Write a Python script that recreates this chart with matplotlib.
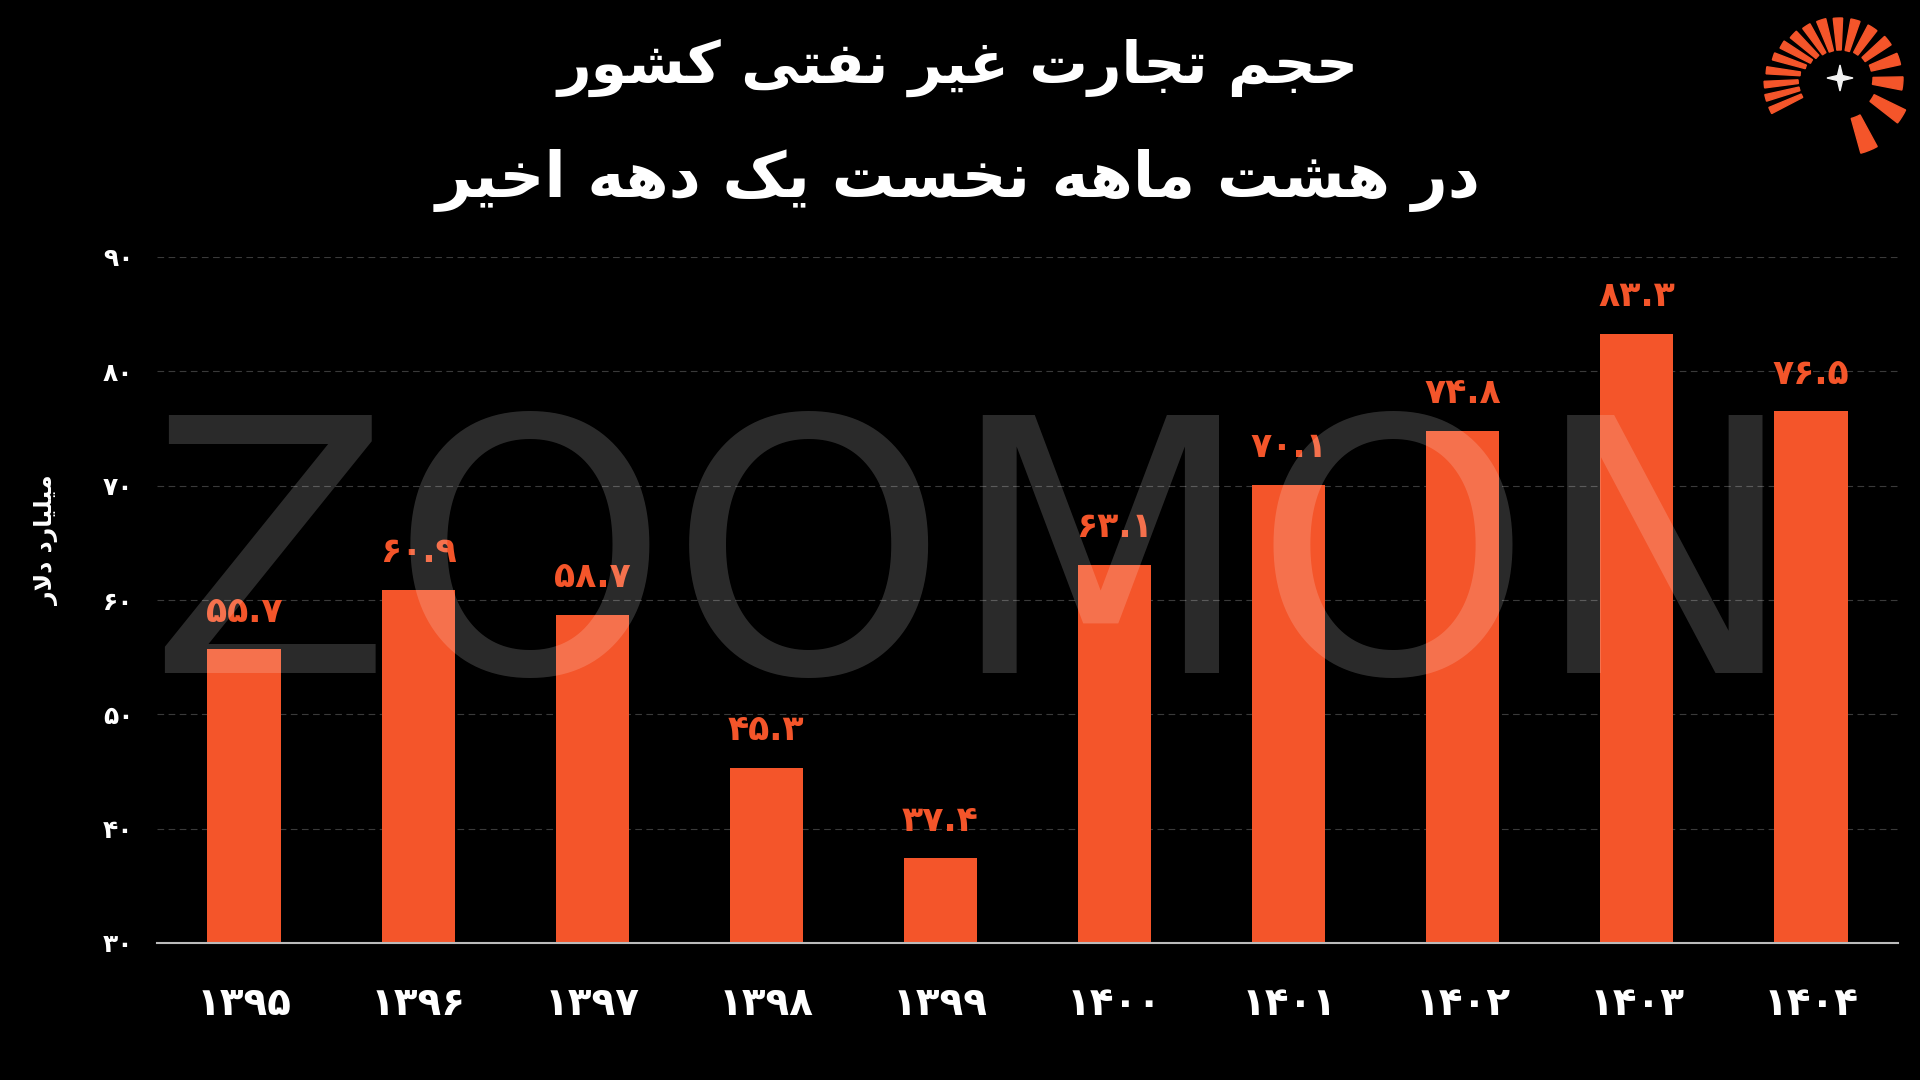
import numpy as np
import matplotlib
matplotlib.use("Agg")
import matplotlib.pyplot as plt
from matplotlib.patches import Wedge, Polygon

# داده‌ها
years = ["1395", "1396", "1397", "1398", "1399", "1400", "1401", "1402", "1403", "1404"]
values = [55.7, 60.9, 58.7, 45.3, 37.4, 63.1, 70.1, 74.8, 83.3, 76.5]
yticks = [30, 40, 50, 60, 70, 80, 90]

title1 = "حجم تجارت غیر نفتی کشور"
title2 = "در هشت ماهه نخست یک دهه اخیر"
ylabel = "میلیارد دلار"

BG = "#000000"
ORANGE = "#F4552A"

# فرم‌های نمایشی حروف: (تنها، پایانی، آغازی، میانی)
FORMS = {
    "ا": ("\uFE8D", "\uFE8E", None, None),
    "ت": ("\uFE95", "\uFE96", "\uFE97", "\uFE98"),
    "ج": ("\uFE9D", "\uFE9E", "\uFE9F", "\uFEA0"),
    "ح": ("\uFEA1", "\uFEA2", "\uFEA3", "\uFEA4"),
    "خ": ("\uFEA5", "\uFEA6", "\uFEA7", "\uFEA8"),
    "د": ("\uFEA9", "\uFEAA", None, None),
    "ر": ("\uFEAD", "\uFEAE", None, None),
    "س": ("\uFEB1", "\uFEB2", "\uFEB3", "\uFEB4"),
    "ش": ("\uFEB5", "\uFEB6", "\uFEB7", "\uFEB8"),
    "غ": ("\uFECD", "\uFECE", "\uFECF", "\uFED0"),
    "ف": ("\uFED1", "\uFED2", "\uFED3", "\uFED4"),
    "ل": ("\uFEDD", "\uFEDE", "\uFEDF", "\uFEE0"),
    "م": ("\uFEE1", "\uFEE2", "\uFEE3", "\uFEE4"),
    "ن": ("\uFEE5", "\uFEE6", "\uFEE7", "\uFEE8"),
    "ه": ("\uFEE9", "\uFEEA", "\uFEEB", "\uFEEC"),
    "و": ("\uFEED", "\uFEEE", None, None),
    "ک": ("\uFB8E", "\uFB8F", "\uFB90", "\uFB91"),
    "ی": ("\uFBFC", "\uFBFD", "\uFBFE", "\uFBFF"),
    "لا": ("\uFEFB", "\uFEFC", None, None),
}


def fa(text):
    # اتصال حروف و راست به چپ کردن متن
    tokens = []
    i = 0
    while i < len(text):
        if text[i] == "ل" and i + 1 < len(text) and text[i + 1] == "ا":
            tokens.append("لا")
            i += 2
        else:
            tokens.append(text[i])
            i += 1
    out = []
    for k, t in enumerate(tokens):
        if t not in FORMS:
            out.append(t)
            continue
        f = FORMS[t]
        prev = tokens[k - 1] if k > 0 else None
        nxt = tokens[k + 1] if k + 1 < len(tokens) else None
        jp = prev in FORMS and FORMS[prev][2] is not None
        jn = nxt in FORMS and f[2] is not None
        if jp and jn:
            out.append(f[3])
        elif jp:
            out.append(f[1])
        elif jn:
            out.append(f[2])
        else:
            out.append(f[0])
    return "".join(out)[::-1]


digits = str.maketrans("0123456789", "۰۱۲۳۴۵۶۷۸۹")


def fa_num(s):
    return str(s).translate(digits)


fig = plt.figure(figsize=(19.2, 10.8), dpi=100, facecolor=BG)
ax = fig.add_axes([157 / 1920, 1 - 943 / 1080, (1898 - 157) / 1920, (943 - 257) / 1080])
ax.set_facecolor(BG)

x = np.arange(len(years))
ax.bar(x, [v - 30 for v in values], bottom=30, width=0.42, color=ORANGE, zorder=2)
for xi, v in zip(x, values):
    ax.text(xi, v + 1.8, fa_num(v), ha="center", va="bottom", color=ORANGE,
            fontsize=25, fontweight="bold", zorder=4)

ax.set_xlim(-0.5, len(years) - 0.5)
ax.set_ylim(30, 90)
ax.set_yticks(yticks)
ax.set_yticklabels([fa_num(t) for t in yticks], color="white", fontsize=18, fontweight="bold")
ax.set_xticks(x)
ax.set_xticklabels([fa_num(y) for y in years], color="white", fontsize=28, fontweight="bold")
ax.tick_params(axis="both", length=0)
ax.tick_params(axis="x", pad=30)
ax.tick_params(axis="y", pad=17)
ax.grid(axis="y", color="#3a3a3a", linestyle=(0, (6, 4)), linewidth=0.8, zorder=0)
for s in ["top", "right", "left"]:
    ax.spines[s].set_visible(False)
ax.spines["bottom"].set_color("#bbbbbb")
ax.spines["bottom"].set_linewidth(1.5)
ax.spines["bottom"].set_zorder(3)

fig.text(47 / 1920, 1 - 540 / 1080, fa(ylabel), rotation=90, color="white",
         fontsize=17, fontweight="bold", ha="center", va="center")

# عنوان
fig.text(958 / 1920, 1 - 68 / 1080, fa(title1), color="white", fontsize=42,
         fontweight="bold", ha="center", va="center")
fig.text(958 / 1920, 1 - 180 / 1080, fa(title2), color="white", fontsize=45,
         fontweight="bold", ha="center", va="center")

# واترمارک
fig.text(973 / 1920, 1 - 673 / 1080, "ZOOMON", color="white", alpha=0.17,
         fontsize=255, fontfamily="DejaVu Sans", ha="center", va="baseline",
         zorder=10)

# لوگو
lax = fig.add_axes([1745 / 1920, 1 - 165 / 1080, 190 / 1920, 165 / 1080])
lax.set_xlim(-95, 95)
lax.set_ylim(-87, 78)
lax.set_aspect("equal")
lax.axis("off")
logo_ang = [-68, -32, -5, 18, 38, 57, 75, 92, 108, 123, 137, 150, 162, 174, 185, 195, 205]
logo_out = [78, 73, 63, 62, 61, 60, 60, 60, 61, 62, 64, 67, 70, 74, 76, 77, 77]
logo_in = [42, 38, 33, 32, 30, 29, 28, 28, 28, 29, 31, 33, 36, 40, 42, 42, 42]
logo_w = [13, 12, 12, 11, 10, 10, 9, 9, 9, 8, 8, 7, 6, 5.5, 5, 5, 5]
for a, ro, ri, w in zip(logo_ang, logo_out, logo_in, logo_w):
    lax.add_patch(Wedge((0, 0), ro, a - w / 2, a + w / 2, width=ro - ri, color=ORANGE))
s = 13
star = [(0, s), (2.5, 2.5), (s, 0), (2.5, -2.5), (0, -s), (-2.5, -2.5), (-s, 0), (-2.5, 2.5)]
lax.add_patch(Polygon(star, closed=True, color="#f2f2f2"))

fig.savefig("out.png", dpi=100, facecolor=BG)
